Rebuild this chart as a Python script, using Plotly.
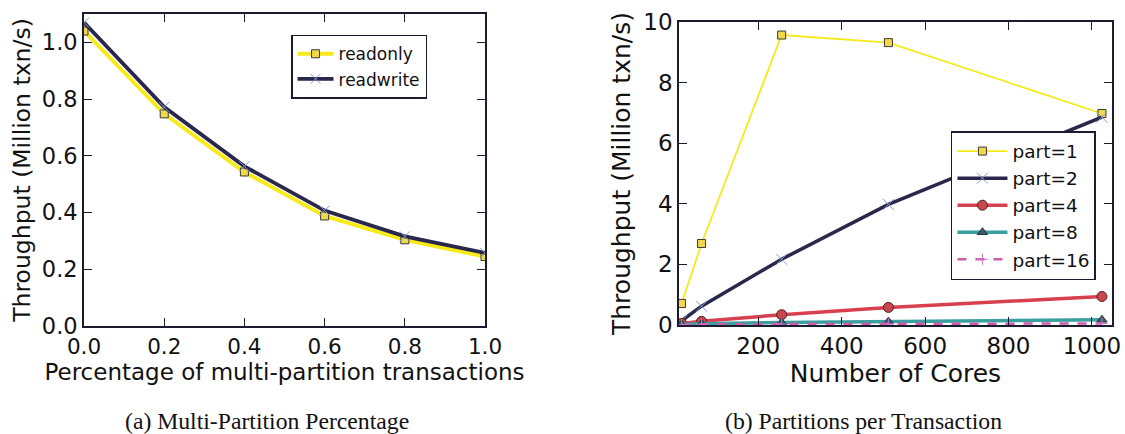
import plotly.graph_objects as go

# (a) throughput vs. fraction of multi-partition transactions
mp_fraction = [0.0, 0.2, 0.4, 0.6, 0.8, 1.0]
readonly = [1.04, 0.748, 0.543, 0.388, 0.304, 0.245]
readwrite = [1.07, 0.772, 0.563, 0.407, 0.316, 0.258]

# (b) throughput vs. number of cores, per partitions-per-transaction
cores = [16, 64, 256, 512, 1024]
part1 = [0.71, 2.69, 9.57, 9.32, 6.98]
part2 = [0.14, 0.62, 2.17, 3.98, 6.86]
part4 = [0.05, 0.12, 0.34, 0.58, 0.94]
part8 = [0.02, 0.04, 0.08, 0.11, 0.17]
part16 = [0.01, 0.02, 0.03, 0.04, 0.05]

left_ticks = [0.0, 0.2, 0.4, 0.6, 0.8, 1.0]
right_xticks = [200, 400, 600, 800, 1000]
right_yticks = [0, 2, 4, 6, 8, 10]

INK = "#1c1c30"
NAVY = "#29274c"
YELLOW = "#f7ea1a"
SQ_FILL = "#efd84a"
XBLUE = "#8797cc"

fig = go.Figure()

# ---- panel (a)
fig.add_trace(go.Scatter(
    x=mp_fraction, y=readonly, name="readonly", mode="lines+markers",
    line=dict(color=YELLOW, width=4),
    marker=dict(symbol="square", size=8, color=SQ_FILL, line=dict(color="#3a3a30", width=1)),
    xaxis="x", yaxis="y", legend="legend"))
fig.add_trace(go.Scatter(
    x=mp_fraction, y=readwrite, name="readwrite", mode="lines+markers",
    line=dict(color=NAVY, width=3.8),
    marker=dict(symbol="x-thin", size=10, line=dict(color=XBLUE, width=1)),
    xaxis="x", yaxis="y", legend="legend"))

# ---- panel (b)
series_b = [
    ("part=1", part1, dict(color=YELLOW, width=1.8),
     dict(symbol="square", size=8, color=SQ_FILL, line=dict(color="#3a3a30", width=1))),
    ("part=2", part2, dict(color=NAVY, width=3.5),
     dict(symbol="x-thin", size=11, line=dict(color=XBLUE, width=1))),
    ("part=4", part4, dict(color="#d8404f", width=3.5),
     dict(symbol="circle", size=10, color="#c8474f", line=dict(color="#4a2226", width=1))),
    ("part=8", part8, dict(color="#3a9fa0", width=3.5),
     dict(symbol="triangle-up", size=9, color="#3d5a6c", line=dict(color="#243440", width=1))),
    ("part=16", part16, dict(color="#cf5aa8", width=2.5, dash="dash"),
     dict(symbol="cross-thin", size=8, line=dict(color="#d070d0", width=1))),
]
for name, ys, ln, mk in series_b:
    fig.add_trace(go.Scatter(
        x=cores, y=ys, name=name, mode="lines+markers", line=ln, marker=mk,
        xaxis="x2", yaxis="y2", legend="legend2"))

axis_common = dict(
    showline=True, linecolor=INK, linewidth=1.8, mirror="ticks",
    ticks="inside", ticklen=8, tickwidth=1.2, tickcolor=INK,
    showgrid=False, zeroline=False, automargin=False,
)
TXT = "#111111"

fig.update_layout(
    width=1125, height=434,
    margin=dict(l=0, r=0, t=0, b=0),
    paper_bgcolor="white", plot_bgcolor="white",
    showlegend=True,
    xaxis=dict(axis_common, domain=[0.0747, 0.4311], range=[0, 1.0],
               tickvals=left_ticks, tickformat=".1f",
               tickfont=dict(family="DejaVu Sans", size=21.5, color=TXT),
               title=dict(text="Percentage of multi-partition transactions",
                          font=dict(family="DejaVu Sans", size=23, color=TXT),
                          standoff=2),
               anchor="y"),
    yaxis=dict(axis_common, domain=[0.2488, 0.9677], range=[0, 1.1],
               tickvals=left_ticks, tickformat=".1f",
               tickfont=dict(family="DejaVu Sans", size=22.5, color=TXT),
               title=dict(text="Throughput (Million txn/s)",
                          font=dict(family="DejaVu Sans", size=23.5, color=TXT),
                          standoff=5),
               anchor="x"),
    xaxis2=dict(axis_common, domain=[0.6036, 0.9884], range=[10, 1048],
                tickvals=right_xticks,
                tickfont=dict(family="DejaVu Sans", size=23, color=TXT),
                title=dict(text="Number of Cores",
                           font=dict(family="DejaVu Sans", size=25, color=TXT),
                           standoff=5),
                anchor="y2"),
    yaxis2=dict(axis_common, domain=[0.2512, 0.9493], range=[0, 10],
                tickvals=right_yticks,
                tickfont=dict(family="DejaVu Sans", size=23, color=TXT),
                title=dict(text="Throughput (Million txn/s)",
                           font=dict(family="DejaVu Sans", size=25, color=TXT),
                           standoff=6),
                anchor="x2"),
    legend=dict(x=0.2587, y=0.92, xanchor="left", yanchor="top",
                bgcolor="white", bordercolor=INK, borderwidth=1.5, itemwidth=36,
                font=dict(family="DejaVu Sans", size=17, color=TXT)),
    legend2=dict(x=0.8453, y=0.698, xanchor="left", yanchor="top",
                 bgcolor="white", bordercolor=INK, borderwidth=1.5, itemwidth=50,
                 font=dict(family="DejaVu Sans", size=18.5, color=TXT)),
    annotations=[
        dict(text="(a) Multi-Partition Percentage", x=267 / 1125, y=0.03,
             xref="paper", yref="paper", xanchor="center", yanchor="middle",
             showarrow=False, font=dict(family="Liberation Serif", size=23.7, color=TXT)),
        dict(text="(b) Partitions per Transaction", x=863 / 1125, y=0.03,
             xref="paper", yref="paper", xanchor="center", yanchor="middle",
             showarrow=False, font=dict(family="Liberation Serif", size=23.7, color=TXT)),
    ],
)

fig.write_html("out.html")
